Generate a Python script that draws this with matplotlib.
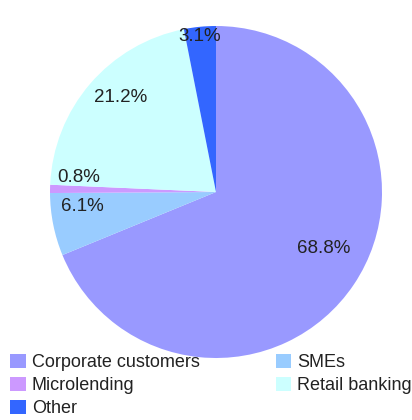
import numpy as np
import matplotlib
matplotlib.use('Agg')
import matplotlib.pyplot as plt
from matplotlib.patches import Patch

# data
labels = ['Corporate customers', 'SMEs', 'Microlending', 'Retail banking', 'Other']
shares = [68.8, 6.1, 0.8, 21.2, 3.1]
colors = ['#9999ff', '#99ccff', '#cc99ff', '#ccffff', '#3366ff']

# where each percentage label sits (fraction of radius, angle in degrees)
label_pos = [(0.73, -27.6), (0.81, 186.4), (0.83, 174.0), (0.81, 135.3), (0.94, 95.9)]

plt.rcParams['font.family'] = ['Liberation Sans', 'DejaVu Sans']

fig = plt.figure(figsize=(4.12, 4.20), dpi=100)
ax = fig.add_axes([50 / 412, (420 - 358) / 420, 332 / 412, 332 / 420])

wedges, texts = ax.pie(shares, colors=colors, startangle=90, counterclock=False,
                       radius=1.0, wedgeprops=dict(linewidth=0))
ax.set_xlim(-1, 1)
ax.set_ylim(-1, 1)
ax.set_aspect('equal')

for (d, a), v in zip(label_pos, shares):
    t = np.radians(a)
    ax.text(d * np.cos(t), d * np.sin(t), f'{v:.1f}%', ha='center', va='center',
            fontsize=13.5, color='#222222')

# legend row-wise: reorder for column-major filling
order = [0, 2, 4, 1, 3]
handles = [Patch(facecolor=colors[i], edgecolor='none', label=labels[i]) for i in order]
fig.legend(handles=handles, loc='upper left', bbox_to_anchor=(0.003, 0.178),
           ncol=2, frameon=False, fontsize=13, handlelength=0.85, handleheight=0.8,
           handletextpad=0.35, columnspacing=4.2, labelspacing=0.31,
           borderaxespad=0, borderpad=0.5, labelcolor='#222222')

fig.savefig('out.png', dpi=100, facecolor='white')
